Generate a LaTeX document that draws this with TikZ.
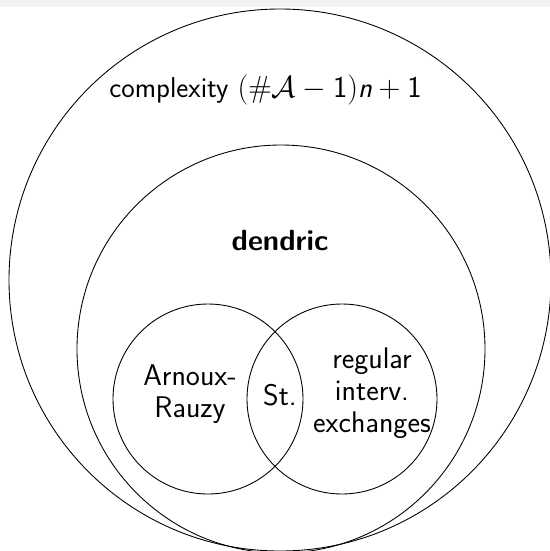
\documentclass[tikz,border=0pt]{standalone}
\usepackage{amsmath,amssymb}
\usepackage{tikz}
\usetikzlibrary{positioning}

\begin{document}
\begin{tikzpicture}[
  ring/.style={draw,circle,line width=0.5pt,inner sep=0pt},
  lbl/.style={inner sep=0pt,align=center,font=\sffamily\fontsize{17}{18.3}\selectfont}]
\useasboundingbox (0,0) rectangle (11,-11.02);
\fill[black!5] (0,0) rectangle (11,-0.14);
% the sets
\node[ring,minimum size=10.84cm] (cplx) at (5.6,-5.6) {};
\node[ring,minimum size=8.16cm] (dendric) at (5.62,-6.98) {};
\node[ring,minimum size=3.8cm] (ar) at (4.16,-7.98) {};
\node[ring,minimum size=3.8cm] (iet) at (6.84,-7.98) {};
% their names
\node[lbl,font=\sffamily\fontsize{16.3}{18.3}\selectfont] (cplxlbl) at (5.31,-1.8) {complexity $(\#\mathcal{A}-\mathsf{1})\textsf{\itshape n}+\mathsf{1}$};
\node[lbl,font=\sffamily\bfseries\fontsize{16.6}{18.3}\selectfont] (dendlbl) at (5.6,-4.82) {dendric};
\node[lbl] (arlbl) at (3.8,-7.88) {Arnoux-\\Rauzy};
\node[lbl] (stlbl) at (5.6,-7.9) {St.};
\node[lbl] (ietlbl) at (7.44,-7.86) {regular\\interv.\\exchanges};
\end{tikzpicture}
\end{document}
